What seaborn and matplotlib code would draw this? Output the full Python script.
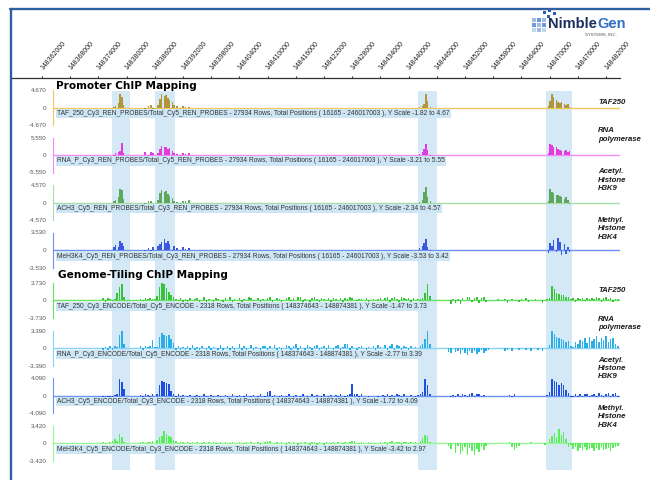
import numpy as np
import matplotlib
matplotlib.use("Agg")
import matplotlib.pyplot as plt
from matplotlib.lines import Line2D
from matplotlib.patches import Rectangle
import seaborn as sns

# ---------------- data ----------------
TICK_POS_KB = [148362, 148368, 148374, 148380, 148386, 148392, 148398, 148404,
               148410, 148416, 148422, 148428, 148434, 148440, 148446, 148452,
               148458, 148464, 148470, 148476, 148482]
TICK_LABELS = ["148362000", "148368000", "148374000", "148380000", "148386000",
               "148392000", "148398000", "148404000", "148410000", "148416000",
               "148422000", "148428000", "148434000", "148440000", "148446000",
               "148452000", "148458000", "148464000", "148470000", "148476000",
               "148482000"]

SHADE_START_KB = [148376.9, 148386.0, 148442.0, 148469.2]
SHADE_END_KB = [148380.7, 148390.3, 148446.0, 148474.8]

RIGHT_LABELS = ["TAF250", "RNA\npolymerase", "Acetyl.\nHistone\nH3K9", "Methyl.\nHistone\nH3K4"]

PROMO_DESC = [
    "TAF_250_Cy3_REN_PROBES/Total_Cy5_REN_PROBES - 27934 Rows, Total Positions ( 16165 - 246017003 ), Y Scale -1.82 to 4.67",
    "RNA_P_Cy3_REN_PROBES/Total_Cy5_REN_PROBES - 27934 Rows, Total Positions ( 16165 - 246017003 ), Y Scale -3.21 to 5.55",
    "ACH3_Cy5_REN_PROBES/Total_Cy3_REN_PROBES - 27934 Rows, Total Positions ( 16165 - 246017003 ), Y Scale -2.34 to 4.57",
    "MeH3K4_Cy5_REN_PROBES/Total_Cy3_REN_PROBES - 27934 Rows, Total Positions ( 16165 - 246017003 ), Y Scale -3.53 to 3.42",
]
GENOME_DESC = [
    "TAF_250_Cy3_ENCODE/Total_Cy5_ENCODE - 2318 Rows, Total Positions ( 148374643 - 148874381 ), Y Scale -1.47 to 3.73",
    "RNA_P_Cy3_ENCODE/Total_Cy5_ENCODE - 2318 Rows, Total Positions ( 148374643 - 148874381 ), Y Scale -2.77 to 3.39",
    "ACH3_Cy5_ENCODE/Total_Cy3_ENCODE - 2318 Rows, Total Positions ( 148374643 - 148874381 ), Y Scale -1.72 to 4.09",
    "MeH3K4_Cy5_ENCODE/Total_Cy3_ENCODE - 2318 Rows, Total Positions ( 148374643 - 148874381 ), Y Scale -3.42 to 2.97",
]
PROMO_YMAX = [4.670, 5.550, 4.570, 3.530]
GENOME_YMAX = [3.730, 3.390, 4.090, 3.420]

# promoter array probe positions (kb)
PROMO_POS_KB = [148377.3, 148377.7, 148378.2, 148378.6, 148379.0, 148379.4,
                148383.9, 148384.6, 148385.2, 148385.6,
                148386.7, 148387.1, 148387.5, 148388.0, 148388.4, 148388.8, 148389.2, 148389.7, 148390.1,
                148390.7, 148391.4, 148392.0, 148392.6, 148393.3,
                148442.4, 148442.9, 148443.3, 148443.7, 148444.1, 148444.6,
                148469.7, 148470.1, 148470.5, 148470.9, 148471.4, 148471.8, 148472.2, 148472.6,
                148473.1, 148473.5, 148473.9, 148474.3]
PROMO_TAF250 = [0.3, 0.5, 1.2, 3.6, 2.8, 0.6,
                -0.4, 0.5, 0.7, -0.3,
                0.6, 2.2, 3.6, 3.1, 3.3, 2.6, 2.0, 1.4, 0.8,
                0.5, -0.3, 0.4, 0.3, 0.2,
                0.3, 0.5, 0.9, 3.7, 1.8, 0.3,
                0.4, 1.8, 3.6, 2.9, 2.0, 1.6, 1.3, 1.5, 1.0, 0.8, 1.0, 0.3]
PROMO_RNAP = [-0.4, 0.6, 0.8, 1.2, 3.7, 0.5,
              0.8, -0.5, 1.0, 0.6,
              0.5, 1.8, 2.8, 2.4, 2.6, 1.8, 2.2, 1.2, 0.6,
              0.4, -0.6, 0.7, 0.3, 0.5,
              0.4, 1.0, 2.0, 3.5, 1.5, -0.8,
              0.5, 3.6, 3.2, 2.6, 2.4, 1.8, 1.6, 1.4, 1.2, 1.5, 1.0, 1.4]
PROMO_ACH3 = [0.4, 0.8, 1.6, 3.7, 3.2, 1.0,
              -0.3, 0.5, 0.4, -0.2,
              0.6, 2.5, 3.3, 2.9, 3.1, 2.4, 1.8, 1.2, 0.5,
              0.3, -0.4, 0.5, 0.4, 0.6,
              0.3, 0.6, 2.8, 4.1, 1.6, 0.4,
              0.5, 3.7, 2.8, 2.5, 1.9, 2.0, 1.8, 1.6, 0.9, 1.5, 0.6, -0.4]
PROMO_MEH3K4 = [0.6, 1.0, 0.7, 1.85, 1.5, 0.9,
                -0.7, 0.5, -0.3, 0.6,
                0.8, 1.3, 1.6, 2.2, 1.5, 1.8, 1.2, -0.6, 0.9,
                0.5, -0.4, 0.7, 0.3, 0.5,
                0.4, 0.8, 1.5, 2.3, 0.6, -0.3,
                -0.6, 1.4, 0.8, 2.0, -0.5, 2.5, 1.6, -1.0, 1.2, -0.9, 0.6, -0.5]

# genome tiling array: probes every 0.5 kb starting at 148375.0 kb
GENOME_START_KB = 148375.0
GENOME_STEP_KB = 0.5
GEN_TAF250 = [
    0.4, -0.3, 0.5, 0.3, -0.2, 0.3, 1.5, 2.8, 3.4, 0.6,
    0, 0, 0, 0, 0, 0, 0.3, -0.2, 0.4, 0.2,
    0.5, 0.3, 0.2, 1.0, 2.8, 3.7, 3.5, 2.6, 1.8, 1.2,
    0.8, 0.3, -0.2, 0.4, -0.3, 0.2, -0.4, 0.5, 0, 0.3,
    0.4, -0.5, 0, 0.6, -0.3, 0.2, 0, -0.4, 0.5, 0.3,
    0, -0.6, 0.4, 0, 0.7, -0.3, 0.2, 0, 0.5, -0.4,
    0.3, 0, 0.6, 0.5, -0.2, 0, 0.4, -0.5, 0.3, 0,
    0.5, 0.6, -0.3, 0, 0.4, 0.2, -0.6, 0, 0.5, 0.7,
    -0.2, 0.4, 0, 0.8, 0.6, -0.4, 0.3, 0, -0.3, 0.5,
    0.6, 0.3, -0.5, 0.4, 0.2, 0, 0.5, -0.3, 0.4, 0.3,
    0, 0.4, -0.3, 0.5, 0.3, 0.6, 0.4, 0, -0.2, 0.3,
    0.2, 0, 0.5, -0.4, 0, 0.3, 0, 0.2, 0.4, 0,
    0.5, 0.6, -0.3, 0.4, 0.7, 0.3, -0.5, 0.6, 0.4, 0.2,
    0.5, -0.3, 0.4, 0, 0.2, 0.3, 0.4, 1.5, 3.4, 1.0,
    0, 0, 0, 0, 0, 0, 0, 0, -0.8, 0.3,
    -0.6, 0.3, -0.7, 0.4, 0, 0.6, 0.7, -0.4, 0.5, 0.6,
    -0.5, 0.4, 0.6, -0.3, 0, 0, 0, 0, 0.2, 0,
    0, 0.3, -0.5, 0, 0.2, 0, 0, -0.4, 0.3, 0,
    0.4, -0.3, 0, 0, 0.3, 0, 0, -0.6, 0, 0.3,
    0.5, 3.0, 2.4, 1.6, 1.4, 1.1, 1.2, 0.7, 0.8, 0.3,
    0.4, -0.3, 0.5, 0.3, 0.4, -0.2, 0.5, 0.3, 0.4, 0.2,
    0.6, 0.4, -0.3, 0.5, 0.7, 0.3, 0.4, -0.4, 0.2, 0.3]
GEN_RNAP = [
    -0.4, 0.3, -0.5, 0.4, -0.3, 0.5, 0.3, 2.6, 3.4, 0.8,
    0, 0, 0, 0, 0, 0, 0.4, -0.3, 0.5, 0.3,
    0.4, 1.6, 0.2, 0.3, 2.2, 2.9, 2.6, 2.4, 2.5, 1.8,
    1.0, -0.6, 0.4, -0.8, 0.3, -1.0, 0.5, -0.4, 0.6, -0.7,
    0.3, -1.2, 0.5, 0, -0.6, 0.4, -0.9, 0.3, 0, -0.5,
    0.6, -1.1, 0, 0.4, -0.7, 0.5, -0.3, 0, 0.8, -0.9,
    0.4, -0.5, 0, 0.6, -1.2, 0.3, 0, -0.6, 0.5, 0.4,
    -0.8, 0.5, 0, 0.7, -0.4, 0.3, -1.0, 0, 0.6, 0.5,
    -0.6, 0.4, 0.8, -0.3, 0.5, 0, -0.9, 0.6, 0.3, -0.5,
    0.5, 0.7, -0.4, 0.3, 0.5, -0.8, 0.6, 0, -0.3, 0.4,
    0.6, -0.5, 0.3, 0.8, 0.9, -0.4, 0.5, 0, -0.6, 0.3,
    0.4, 0, -0.5, 0.3, 0, 0.5, -0.4, 0.6, 0.3, 0,
    0.7, -0.6, 0.5, 0.8, -0.5, 0.6, 0.4, -0.8, 0.5, 0.3,
    -0.4, 0.5, 0, 0.3, 0, 0.4, 0.8, 1.8, 3.4, 0.9,
    0, 0, 0, 0, 0, 0, 0, -0.7, -1.0, 0,
    -0.8, -0.5, -1.2, -0.4, -0.9, -1.3, -0.6, -1.0, -0.5, -1.1,
    -0.7, -0.4, -1.0, -0.5, -0.3, 0, 0, 0, 0, 0,
    0, -0.5, -0.3, 0, -0.6, 0, 0, -0.4, 0, 0,
    -0.3, 0, -0.5, 0, 0, -0.4, 0, -0.6, 0, 0,
    0.6, 3.3, 2.8, 2.2, 2.0, 1.8, 1.6, 1.3, 1.5, 0.4,
    0.3, 1.2, 0.9, 1.6, 1.4, 1.9, 1.1, 2.1, 1.5, 1.8,
    2.4, 1.3, 2.0, 1.6, 2.3, 1.2, 1.8, 2.0, 0.8, 0.4]
GEN_ACH3 = [
    -0.3, -0.2, -0.4, -0.3, -0.2, 0.2, 0.4, 3.8, 3.2, 1.5,
    0, 0, 0, 0, 0, 0, 0.2, -0.3, 0.3, 0.2,
    -0.2, 0.3, 0, 0.4, 2.6, 3.4, 3.3, 3.0, 2.7, 1.2,
    0.5, -0.3, 0.3, -0.2, 0.2, 0, -0.3, 0.2, 0, -0.2,
    0.2, -0.3, 0, 0.3, -0.2, 0, 0.2, -0.3, 0, 0.2,
    -0.3, 0, 0.2, -0.2, 0, 0.3, 0, -0.3, 0.2, 0,
    -0.2, 0.3, 0, -0.3, 0.2, 0, -0.2, 0.3, 0, -0.3,
    0.8, 1.0, -0.3, 0.2, 0, -0.3, 0.2, 0, -0.2, 0.3,
    0, -0.3, 0.2, 0, -0.2, 0.3, 0, -0.2, 0, 0.3,
    -0.3, 0.2, 0, -0.2, 0.3, 0, -0.3, 0.2, 0, 0.2,
    -0.2, 0.3, 0, -0.3, 0.2, 0.3, 2.8, 0.4, 0.5, -0.2,
    0.3, 0, 0, -0.2, 0, 0, 0, -0.3, 0, 0.2,
    -0.3, 0.3, -0.2, 0.2, -0.3, 0.4, 0.2, -0.2, 0.3, 0,
    0, 0.2, 0, -0.2, 0.2, 0.3, 0.8, 3.8, 2.6, 0.5,
    0, 0, 0, 0, 0, 0, 0, 0, -0.2, 0.2,
    -0.3, 0.3, -0.2, 0.4, 0.2, -0.3, 0.5, 0.6, -0.3, 0.4,
    0.3, -0.2, 0.2, 0, 0, 0, 0, 0, 0, 0,
    0, 0, 0, 0.2, -0.2, 0.3, 0, 0, 0, 0,
    0, 0, 0, 0, 0, 0, 0, 0, 0, 0.2,
    0.8, 4.0, 3.4, 3.2, 2.6, 2.9, 2.5, 1.4, 0.6, -0.3,
    -0.3, 0.3, -0.3, 0.4, -0.2, 0.3, 0.4, -0.3, 0.2, 0.5,
    -0.3, 0.6, 0.2, -0.3, 0.5, 0.7, -0.2, 0.4, 0.6, -0.3]
GEN_MEH3K4 = [
    0.2, -0.2, 0.1, 0.2, 0.5, 0.8, 0.4, 1.8, 1.2, 0.3,
    0, 0, 0, 0, 0, 0, 0.3, 0.2, -0.2, 0.3,
    0.2, 0.4, 0, 0.6, 1.3, 1.4, 2.4, 1.9, 1.5, 1.2,
    0.6, 0.4, -0.2, 0.3, 0.2, 0, 0.3, -0.2, 0.2, 0,
    0.3, 0, -0.2, 0.2, 0, 0.3, 0, 0.2, -0.2, 0,
    0.2, 0, 0.3, 0, -0.2, 0.2, 0, 0, 0.3, 0,
    -0.2, 0.2, 0, 0.3, 0, 0, 0.2, -0.3, 0, 0.2,
    0.4, 0.5, 0, -0.2, 0.2, 0, 0.3, 0, -0.3, 0.2,
    0, 0.2, 0, -0.3, 0.3, 0, 0.2, 0, -0.6, 0.3,
    0.3, -1.8, 0.2, 0, -0.3, 0.2, 0, -0.2, 0.3, 0,
    0.2, 0, -0.2, 0.3, 0, 0.2, 0.5, 0.4, 0, -0.2,
    0.2, 0, 0, 0.2, 0, 0, -0.2, 0, 0.2, 0,
    0.3, -0.3, 0.2, 0.4, -0.2, 0.3, 0.2, -0.3, 0.3, 0.2,
    -0.2, 0.3, 0, 0.2, 0, 0.4, 1.0, 1.6, 1.5, 0.3,
    0, 0, 0, 0, 0, 0, 0, -0.5, -1.2, 0,
    -1.8, -0.6, -2.0, -1.5, -0.8, -2.2, -1.0, -1.6, -2.3, -1.2,
    -1.7, -0.8, -1.4, -0.5, 0, 0, 0, 0, 0, 0,
    0, 0, 0, 0.2, -0.8, -1.4, -1.0, -0.6, 0, 0,
    0, 0, 0.2, 0, 0, 0, 0, 0, -0.4, 0,
    0.8, 1.4, 2.0, 1.2, 2.8, 1.6, 2.2, 0.8, -0.8, -0.4,
    -1.2, -0.8, -1.5, -1.0, -1.3, -0.7, -1.4, -1.1, -0.9, -1.5,
    -1.0, -1.3, -0.8, -1.4, -1.2, -0.9, -1.5, -1.0, -0.7, -0.6]

PROMO_VALUES = [PROMO_TAF250, PROMO_RNAP, PROMO_ACH3, PROMO_MEH3K4]
GENOME_VALUES = [GEN_TAF250, GEN_RNAP, GEN_ACH3, GEN_MEH3K4]

# ---------------- styling / layout ----------------
PROMO_BAR = ["#b4963a", "#e03ce0", "#5ea85e", "#3a58e0"]
PROMO_BASE = ["#f0c860", "#f58cf5", "#a8dca8", "#6f8ff5"]
GEN_BAR = ["#36c436", "#2aaeea", "#1f4fe0", "#56f056"]
GEN_BASE = ["#66e266", "#86d2f4", "#6f93f2", "#98f598"]
SHADE = "#d4e9f5"
DESC_BG = "#cde6f5"

W, H = 650, 480
PX_REF, KB_REF, PX_PER_KB = 42.0, 148362.0, 28.2 / 6.0


def kb_at(px):
    return KB_REF + (px - PX_REF) / PX_PER_KB


def rect(x0, y0, x1, y1):
    return [x0 / W, 1 - y1 / H, (x1 - x0) / W, (y1 - y0) / H]


def fy(py):
    return 1 - py / H


sns.set_style("white")
plt.rcParams["font.family"] = ["Liberation Sans", "DejaVu Sans"]

fig = plt.figure(figsize=(6.5, 4.8), dpi=100)
fig.patch.set_facecolor("white")

TRACK_L, TRACK_R = 53, 620
XLIM = (kb_at(TRACK_L), kb_at(TRACK_R))

# background shading columns
ax_bg = fig.add_axes(rect(TRACK_L, 91, TRACK_R, 470))
ax_bg.set_xlim(*XLIM)
ax_bg.set_ylim(0, 1)
for s, e in zip(SHADE_START_KB, SHADE_END_KB):
    ax_bg.axvspan(s, e, color=SHADE, lw=0)
ax_bg.axis("off")

genome_pos = GENOME_START_KB + GENOME_STEP_KB * np.arange(len(GEN_TAF250))

ZERO_PX = [107.7, 155.0, 202.7, 250.0, 300.3, 348.3, 395.7, 443.3]
HALF = 17.5
LABEL_CY = [102, 135, 180, 229, 290, 323.5, 368.5, 417]

tracks = []
for k in range(4):
    tracks.append((PROMO_POS_KB, PROMO_VALUES[k], PROMO_YMAX[k], PROMO_BAR[k], PROMO_BASE[k], PROMO_DESC[k], RIGHT_LABELS[k]))
for k in range(4):
    tracks.append((genome_pos, GENOME_VALUES[k], GENOME_YMAX[k], GEN_BAR[k], GEN_BASE[k], GENOME_DESC[k], RIGHT_LABELS[k]))

for j, (pos, vals, ymax, bc, basec, desc, rlab) in enumerate(tracks):
    z = ZERO_PX[j]
    ax = fig.add_axes(rect(TRACK_L, z - HALF, TRACK_R, z + HALF))
    ax.patch.set_visible(False)
    ax.axhline(0, color=basec, lw=1.0, zorder=1)
    sns.barplot(x=np.asarray(pos, dtype=float), y=np.asarray(vals, dtype=float),
                native_scale=True, orient="x", color=bc, saturation=1,
                errorbar=None, width=0.65, linewidth=0, ax=ax, zorder=2)
    ax.set_xlim(*XLIM)
    ax.set_ylim(-ymax, ymax)
    for s in ["top", "right", "bottom"]:
        ax.spines[s].set_visible(False)
    ax.spines["left"].set_color(basec)
    ax.spines["left"].set_linewidth(0.8)
    ax.set_xticks([])
    ax.set_yticks([-ymax, 0, ymax])
    ax.set_yticklabels([f"-{ymax:.3f}", "0", f"{ymax:.3f}"], fontsize=4.5, color="#555555")
    ax.tick_params(axis="y", direction="in", length=3, width=0.6, color=basec, pad=4.5)
    ax.set(xlabel="", ylabel="")
    fig.text(57 / W, fy(z + 6), desc, ha="left", va="center", fontsize=4.75, color="#333333",
             bbox=dict(boxstyle="square,pad=0.18", facecolor=DESC_BG, edgecolor="none"))
    fig.text(598 / W, fy(LABEL_CY[j]), rlab, ha="left", va="center", fontsize=5.6,
             fontweight="bold", fontstyle="italic", color="#1a1a1a", linespacing=1.3)

# section titles
fig.text(56 / W, fy(86), "Promoter ChIP Mapping", ha="left", va="center",
         fontsize=7.6, fontweight="bold", family=["DejaVu Sans"], color="black")
fig.text(58 / W, fy(274.5), "Genome-Tiling ChIP Mapping", ha="left", va="center",
         fontsize=7.6, fontweight="bold", family=["DejaVu Sans"], color="black")

# top coordinate axis
ax_top = fig.add_axes(rect(12, 78, TRACK_R, 79))
ax_top.patch.set_visible(False)
ax_top.set_xlim(kb_at(12), kb_at(TRACK_R))
ax_top.set_ylim(0, 1)
for s in ["left", "right", "bottom"]:
    ax_top.spines[s].set_visible(False)
ax_top.spines["top"].set_color("#333333")
ax_top.spines["top"].set_linewidth(0.9)
ax_top.xaxis.tick_top()
ax_top.set_xticks(TICK_POS_KB)
ax_top.set_xticklabels(TICK_LABELS, rotation=50, ha="left", va="center",
                       rotation_mode="anchor", fontsize=5.0, color="#222222")
ax_top.tick_params(axis="x", direction="out", length=1.8, width=0.8, color="#333333", pad=5)
ax_top.set_yticks([])

# frame lines
FRAME = "#2f5f9e"
fig.add_artist(Line2D([10 / W, 1.0], [fy(9), fy(9)], color=FRAME, lw=1.7, transform=fig.transFigure))
fig.add_artist(Line2D([10.5 / W, 10.5 / W], [0, fy(9)], color=FRAME, lw=1.7, transform=fig.transFigure))

# logo
t1 = fig.text(548 / W, fy(24.5), "Nimble", ha="left", va="center", fontsize=10.5,
              fontweight="bold", color="#1c2d5e", family=["Liberation Sans Narrow", "Liberation Sans"])
fig.canvas.draw()
bb = t1.get_window_extent(renderer=fig.canvas.get_renderer())
fig.text(bb.x1 / W, fy(24.5), "Gen", ha="left", va="center", fontsize=10.5,
         fontweight="bold", color="#2f6fc6", family=["Liberation Sans Narrow", "Liberation Sans"])
fig.text(617 / W, fy(35), "SYSTEMS, INC.", ha="right", va="center", fontsize=3.2, color="#555555")

for (x, y, c) in [(532, 18, "#9fbde4"), (537, 18, "#6c9ad6"), (542, 18, "#9fbde4"),
                  (532, 23, "#6c9ad6"), (537, 23, "#9fbde4"), (542, 23, "#6c9ad6"),
                  (532, 28, "#c3d6ef"), (537, 28, "#9fbde4"), (542, 28, "#c3d6ef")]:
    fig.add_artist(Rectangle((x / W, fy(y + 4)), 4 / W, 4 / H, transform=fig.transFigure,
                             facecolor=c, edgecolor="none"))
for (x, y) in [(543, 11), (548, 9), (553, 12), (547, 14.5)]:
    fig.add_artist(Rectangle((x / W, fy(y + 3)), 3 / W, 3 / H, transform=fig.transFigure,
                             facecolor="#2a5cb0", edgecolor="none"))

fig.savefig("out.png", dpi=100, facecolor="white")
